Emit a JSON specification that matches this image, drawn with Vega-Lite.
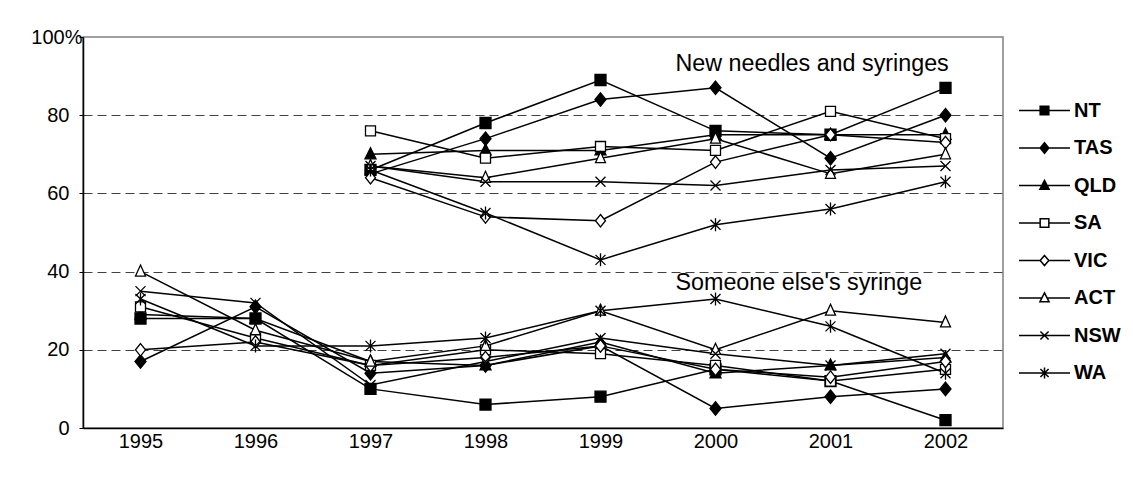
{
  "$schema": "https://vega.github.io/schema/vega-lite/v6.json",
  "width": 920,
  "height": 391,
  "autosize": {"type": "none"},
  "padding": {"left": 83, "top": 37, "right": 130, "bottom": 59},
  "background": "white",
  "config": {
    "font": "Liberation Sans",
    "view": {"stroke": "#808080", "strokeWidth": 1.5},
    "axis": {"labelFont": "Liberation Sans", "labelColor": "black", "labelFontSize": 20, "domainColor": "black", "domainWidth": 1.5, "tickColor": "black"},
    "legend": {"padding": 0}
  },
  "datasets": {
    "notes": [
      {"label": "New needles and syringes", "year": "2000", "value": 93},
      {"label": "Someone else's syringe", "year": "2000", "value": 37}
    ]
  },
  "data": {"values": [
    {"state": "NT", "group": "other", "year": "1995", "value": 28},
    {"state": "NT", "group": "other", "year": "1996", "value": 28},
    {"state": "NT", "group": "other", "year": "1997", "value": 10},
    {"state": "NT", "group": "other", "year": "1998", "value": 6},
    {"state": "NT", "group": "other", "year": "1999", "value": 8},
    {"state": "NT", "group": "other", "year": "2000", "value": 15},
    {"state": "NT", "group": "other", "year": "2001", "value": 12},
    {"state": "NT", "group": "other", "year": "2002", "value": 2},
    {"state": "TAS", "group": "other", "year": "1995", "value": 17},
    {"state": "TAS", "group": "other", "year": "1996", "value": 31},
    {"state": "TAS", "group": "other", "year": "1997", "value": 14},
    {"state": "TAS", "group": "other", "year": "1998", "value": 16},
    {"state": "TAS", "group": "other", "year": "1999", "value": 21},
    {"state": "TAS", "group": "other", "year": "2000", "value": 5},
    {"state": "TAS", "group": "other", "year": "2001", "value": 8},
    {"state": "TAS", "group": "other", "year": "2002", "value": 10},
    {"state": "QLD", "group": "other", "year": "1995", "value": 29},
    {"state": "QLD", "group": "other", "year": "1996", "value": 28},
    {"state": "QLD", "group": "other", "year": "1997", "value": 17},
    {"state": "QLD", "group": "other", "year": "1998", "value": 16},
    {"state": "QLD", "group": "other", "year": "1999", "value": 22},
    {"state": "QLD", "group": "other", "year": "2000", "value": 14},
    {"state": "QLD", "group": "other", "year": "2001", "value": 16},
    {"state": "QLD", "group": "other", "year": "2002", "value": 18},
    {"state": "SA", "group": "other", "year": "1995", "value": 31},
    {"state": "SA", "group": "other", "year": "1996", "value": 23},
    {"state": "SA", "group": "other", "year": "1997", "value": 16},
    {"state": "SA", "group": "other", "year": "1998", "value": 20},
    {"state": "SA", "group": "other", "year": "1999", "value": 19},
    {"state": "SA", "group": "other", "year": "2000", "value": 16},
    {"state": "SA", "group": "other", "year": "2001", "value": 12},
    {"state": "SA", "group": "other", "year": "2002", "value": 15},
    {"state": "VIC", "group": "other", "year": "1995", "value": 20},
    {"state": "VIC", "group": "other", "year": "1996", "value": 22},
    {"state": "VIC", "group": "other", "year": "1997", "value": 16},
    {"state": "VIC", "group": "other", "year": "1998", "value": 18},
    {"state": "VIC", "group": "other", "year": "1999", "value": 21},
    {"state": "VIC", "group": "other", "year": "2000", "value": 15},
    {"state": "VIC", "group": "other", "year": "2001", "value": 13},
    {"state": "VIC", "group": "other", "year": "2002", "value": 17},
    {"state": "ACT", "group": "other", "year": "1995", "value": 40},
    {"state": "ACT", "group": "other", "year": "1996", "value": 25},
    {"state": "ACT", "group": "other", "year": "1997", "value": 17},
    {"state": "ACT", "group": "other", "year": "1998", "value": 21},
    {"state": "ACT", "group": "other", "year": "1999", "value": 30},
    {"state": "ACT", "group": "other", "year": "2000", "value": 20},
    {"state": "ACT", "group": "other", "year": "2001", "value": 30},
    {"state": "ACT", "group": "other", "year": "2002", "value": 27},
    {"state": "NSW", "group": "other", "year": "1995", "value": 35},
    {"state": "NSW", "group": "other", "year": "1996", "value": 32},
    {"state": "NSW", "group": "other", "year": "1997", "value": 11},
    {"state": "NSW", "group": "other", "year": "1998", "value": 17},
    {"state": "NSW", "group": "other", "year": "1999", "value": 23},
    {"state": "NSW", "group": "other", "year": "2000", "value": 19},
    {"state": "NSW", "group": "other", "year": "2001", "value": 16},
    {"state": "NSW", "group": "other", "year": "2002", "value": 19},
    {"state": "WA", "group": "other", "year": "1995", "value": 33},
    {"state": "WA", "group": "other", "year": "1996", "value": 21},
    {"state": "WA", "group": "other", "year": "1997", "value": 21},
    {"state": "WA", "group": "other", "year": "1998", "value": 23},
    {"state": "WA", "group": "other", "year": "1999", "value": 30},
    {"state": "WA", "group": "other", "year": "2000", "value": 33},
    {"state": "WA", "group": "other", "year": "2001", "value": 26},
    {"state": "WA", "group": "other", "year": "2002", "value": 14},
    {"state": "NT", "group": "new", "year": "1997", "value": 66},
    {"state": "NT", "group": "new", "year": "1998", "value": 78},
    {"state": "NT", "group": "new", "year": "1999", "value": 89},
    {"state": "NT", "group": "new", "year": "2000", "value": 76},
    {"state": "NT", "group": "new", "year": "2001", "value": 75},
    {"state": "NT", "group": "new", "year": "2002", "value": 87},
    {"state": "TAS", "group": "new", "year": "1997", "value": 65},
    {"state": "TAS", "group": "new", "year": "1998", "value": 74},
    {"state": "TAS", "group": "new", "year": "1999", "value": 84},
    {"state": "TAS", "group": "new", "year": "2000", "value": 87},
    {"state": "TAS", "group": "new", "year": "2001", "value": 69},
    {"state": "TAS", "group": "new", "year": "2002", "value": 80},
    {"state": "QLD", "group": "new", "year": "1997", "value": 70},
    {"state": "QLD", "group": "new", "year": "1998", "value": 71},
    {"state": "QLD", "group": "new", "year": "1999", "value": 71},
    {"state": "QLD", "group": "new", "year": "2000", "value": 75},
    {"state": "QLD", "group": "new", "year": "2001", "value": 75},
    {"state": "QLD", "group": "new", "year": "2002", "value": 75},
    {"state": "SA", "group": "new", "year": "1997", "value": 76},
    {"state": "SA", "group": "new", "year": "1998", "value": 69},
    {"state": "SA", "group": "new", "year": "1999", "value": 72},
    {"state": "SA", "group": "new", "year": "2000", "value": 71},
    {"state": "SA", "group": "new", "year": "2001", "value": 81},
    {"state": "SA", "group": "new", "year": "2002", "value": 74},
    {"state": "VIC", "group": "new", "year": "1997", "value": 64},
    {"state": "VIC", "group": "new", "year": "1998", "value": 54},
    {"state": "VIC", "group": "new", "year": "1999", "value": 53},
    {"state": "VIC", "group": "new", "year": "2000", "value": 68},
    {"state": "VIC", "group": "new", "year": "2001", "value": 75},
    {"state": "VIC", "group": "new", "year": "2002", "value": 73},
    {"state": "ACT", "group": "new", "year": "1997", "value": 67},
    {"state": "ACT", "group": "new", "year": "1998", "value": 64},
    {"state": "ACT", "group": "new", "year": "1999", "value": 69},
    {"state": "ACT", "group": "new", "year": "2000", "value": 74},
    {"state": "ACT", "group": "new", "year": "2001", "value": 65},
    {"state": "ACT", "group": "new", "year": "2002", "value": 70},
    {"state": "NSW", "group": "new", "year": "1997", "value": 67},
    {"state": "NSW", "group": "new", "year": "1998", "value": 63},
    {"state": "NSW", "group": "new", "year": "1999", "value": 63},
    {"state": "NSW", "group": "new", "year": "2000", "value": 62},
    {"state": "NSW", "group": "new", "year": "2001", "value": 66},
    {"state": "NSW", "group": "new", "year": "2002", "value": 67},
    {"state": "WA", "group": "new", "year": "1997", "value": 66},
    {"state": "WA", "group": "new", "year": "1998", "value": 55},
    {"state": "WA", "group": "new", "year": "1999", "value": 43},
    {"state": "WA", "group": "new", "year": "2000", "value": 52},
    {"state": "WA", "group": "new", "year": "2001", "value": 56},
    {"state": "WA", "group": "new", "year": "2002", "value": 63}
  ]},
  "encoding": {
    "x": {"field": "year", "type": "ordinal", "scale": {"type": "point", "padding": 0.5},
      "axis": {"title": null, "labelAngle": 0, "ticks": false, "labelPadding": 3, "grid": false}},
    "y": {"field": "value", "type": "quantitative", "scale": {"domain": [0, 100], "nice": false},
      "axis": {"title": null, "values": [0, 20, 40, 60, 80, 100],
        "labelExpr": "datum.value == 100 ? '100%' : datum.label",
        "grid": true, "gridColor": "#404040", "gridDash": [9, 5], "gridWidth": 1,
        "gridOpacity": {"condition": {"test": "datum.value == 0 || datum.value == 100", "value": 0}, "value": 1},
        "tickSize": 4,
        "labelPadding": {"condition": {"test": "datum.value == 100", "value": -3}, "value": 10}}}
  },
  "layer": [
    {
      "mark": {"type": "line", "color": "black", "strokeWidth": 1.5},
      "encoding": {"detail": [{"field": "state"}, {"field": "group"}]}
    },
    {
      "mark": {"type": "point", "stroke": "black", "strokeWidth": 1.3, "size": 100, "opacity": 1},
      "encoding": {
        "shape": {"field": "state", "type": "nominal", "legend": null,
          "scale": {"domain": ["NT", "TAS", "QLD", "SA", "VIC", "ACT", "NSW", "WA"],
            "range": ["M-1.1,-1.1H1.1V1.1H-1.1Z", "M0,-1.35L1.1,0L0,1.35L-1.1,0Z", "M0,-1.3L1.1,0.9H-1.1Z", "M-1,-1H1V1H-1Z", "M0,-1.25L1,0L0,1.25L-1,0Z", "M0,-1.3L1,0.9H-1Z", "M-1,-1L1,1M-1,1L1,-1", "M-1,-1L1,1M-1,1L1,-1M0,-1.3V1.3"]}},
        "fill": {"field": "state", "type": "nominal", "legend": null,
          "scale": {"domain": ["NT", "TAS", "QLD", "SA", "VIC", "ACT", "NSW", "WA"],
            "range": ["black", "black", "black", "white", "white", "white", "white", "white"]}}
      }
    },
    {
      "transform": [{"filter": "datum.value < 0"}],
      "mark": {"type": "point", "stroke": "black", "strokeWidth": 1.5, "opacity": 1},
      "encoding": {
        "shape": {"field": "state", "type": "nominal",
          "scale": {"domain": ["NT", "TAS", "QLD", "SA", "VIC", "ACT", "NSW", "WA"],
            "range": ["M-1,0H1M-0.17,-0.17H0.17V0.17H-0.17Z", "M-1,0H1M0,-0.21L0.17,0L0,0.21L-0.17,0Z", "M-1,0H1M0,-0.2L0.18,0.15H-0.18Z", "M-1,0H-0.17M0.17,0H1M-0.17,-0.17H0.17V0.17H-0.17Z", "M-1,0H-0.17M0.17,0H1M0,-0.2L0.17,0L0,0.2L-0.17,0Z", "M-1,0H-0.1M0.1,0H1M0,-0.2L0.18,0.15H-0.18Z", "M-1,0H1M-0.16,-0.16L0.16,0.16M-0.16,0.16L0.16,-0.16", "M-1,0H1M-0.16,-0.16L0.16,0.16M-0.16,0.16L0.16,-0.16M0,-0.22V0.22"]},
          "legend": {"orient": "none", "legendX": 935, "legendY": 47, "title": null, "symbolSize": 2601, "symbolStrokeColor": "black", "symbolStrokeWidth": 1.5, "symbolOpacity": 1, "labelFont": "Liberation Sans", "labelFontSize": 20, "labelFontWeight": "bold", "labelColor": "black", "labelOffset": 3, "rowPadding": 0.5, "padding": 0,
            "encode": {"symbols": {"update": {"stroke": {"value": "black"}, "strokeWidth": {"value": 1.5}, "strokeOpacity": {"value": 1}}}}}},
        "fill": {"field": "state", "type": "nominal",
          "scale": {"domain": ["NT", "TAS", "QLD", "SA", "VIC", "ACT", "NSW", "WA"],
            "range": ["black", "black", "black", "white", "white", "white", "white", "white"]},
          "legend": {"orient": "none", "legendX": 935, "legendY": 47, "title": null, "symbolSize": 2601, "symbolStrokeColor": "black", "symbolStrokeWidth": 1.5, "symbolOpacity": 1, "labelFont": "Liberation Sans", "labelFontSize": 20, "labelFontWeight": "bold", "labelColor": "black", "labelOffset": 3, "rowPadding": 0.5, "padding": 0,
            "encode": {"symbols": {"update": {"stroke": {"value": "black"}, "strokeWidth": {"value": 1.5}, "strokeOpacity": {"value": 1}}}}}}
      }
    },
    {
      "data": {"name": "notes"},
      "mark": {"type": "text", "align": "left", "baseline": "middle", "dx": -40, "fontSize": 23.3, "font": "Liberation Sans", "fill": "black"},
      "encoding": {"text": {"field": "label", "type": "nominal"}}
    }
  ],
  "resolve": {"scale": {"shape": "independent", "fill": "independent"}}
}
